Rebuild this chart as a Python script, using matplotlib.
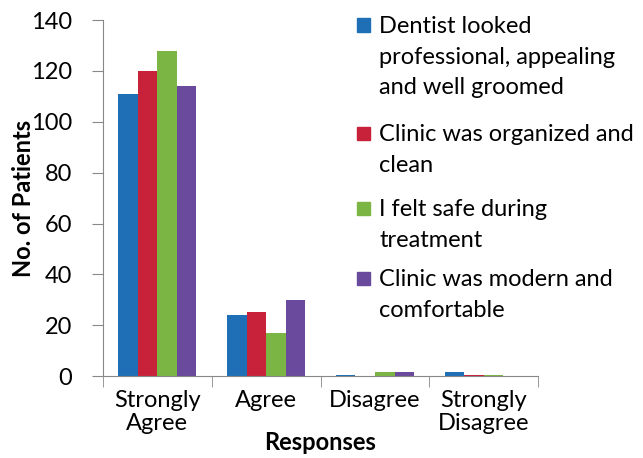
import numpy as np
import matplotlib
matplotlib.use("Agg")
import matplotlib.pyplot as plt
from matplotlib.patches import Rectangle

# ── Data ──────────────────────────────────────────────────────────────────────
categories = ["Strongly\nAgree", "Agree", "Disagree", "Strongly\nDisagree"]
series_labels = [
    "Dentist looked\nprofessional, appealing\nand well groomed",
    "Clinic was organized and\nclean",
    "I felt safe during\ntreatment",
    "Clinic was modern and\ncomfortable",
]
dentist_professional = [111, 24, 0.5, 1.5]
clinic_organized = [120, 25, 0, 0.5]
felt_safe = [128, 17, 1.5, 0.5]
clinic_modern = [114, 30, 1.5, 0]
series_values = [dentist_professional, clinic_organized, felt_safe, clinic_modern]
colors = ["#1E6FB6", "#C8223A", "#7BB544", "#6A4A9C"]

# ── Plot ──────────────────────────────────────────────────────────────────────
plt.rcParams["font.family"] = ["Lato", "DejaVu Sans"]

fig = plt.figure(figsize=(6.43, 4.58), dpi=100)
ax = fig.add_axes([0.160, 0.179, 0.677, 0.777])

x = np.arange(len(categories))
w = 0.18
for i, (vals, col) in enumerate(zip(series_values, colors)):
    ax.bar(x + (i - 1.5) * w, vals, width=w, color=col, linewidth=0)

ax.set_xlim(-0.5, len(categories) - 0.5)
ax.set_ylim(0, 140)
ax.set_yticks(range(0, 141, 20))
ax.set_xticks(x)
ax.set_xticklabels(categories, fontsize=17, linespacing=1.1)
ax.set_xticks(np.arange(-0.5, len(categories), 1.0), minor=True)
ax.tick_params(axis="x", which="major", length=0, pad=10)
ax.tick_params(axis="x", which="minor", length=8, color="#888888", direction="out")
ax.tick_params(axis="y", labelsize=17, length=8, color="#888888", direction="out", pad=14)

for side in ["top", "right"]:
    ax.spines[side].set_visible(False)
for side in ["left", "bottom"]:
    ax.spines[side].set_color("#888888")

ax.set_ylabel("No. of Patients", fontsize=17, fontweight="bold", labelpad=-3)
ax.set_xlabel("Responses", fontsize=17, fontweight="bold", labelpad=-2)

# legend drawn by hand so the marker sits on the first line
W, H = 643, 458
entry_tops = [25, 133, 208, 278]
for lab, col, yc in zip(series_labels, colors, entry_tops):
    fig.patches.append(Rectangle((357 / W, 1 - (yc + 6.5) / H), 13 / W, 13 / H,
                                 transform=fig.transFigure, color=col))
    fig.text(379 / W, 1 - (yc - 9) / H, lab, fontsize=17, va="top", ha="left",
             linespacing=1.57)

plt.savefig("out.png", dpi=100)
